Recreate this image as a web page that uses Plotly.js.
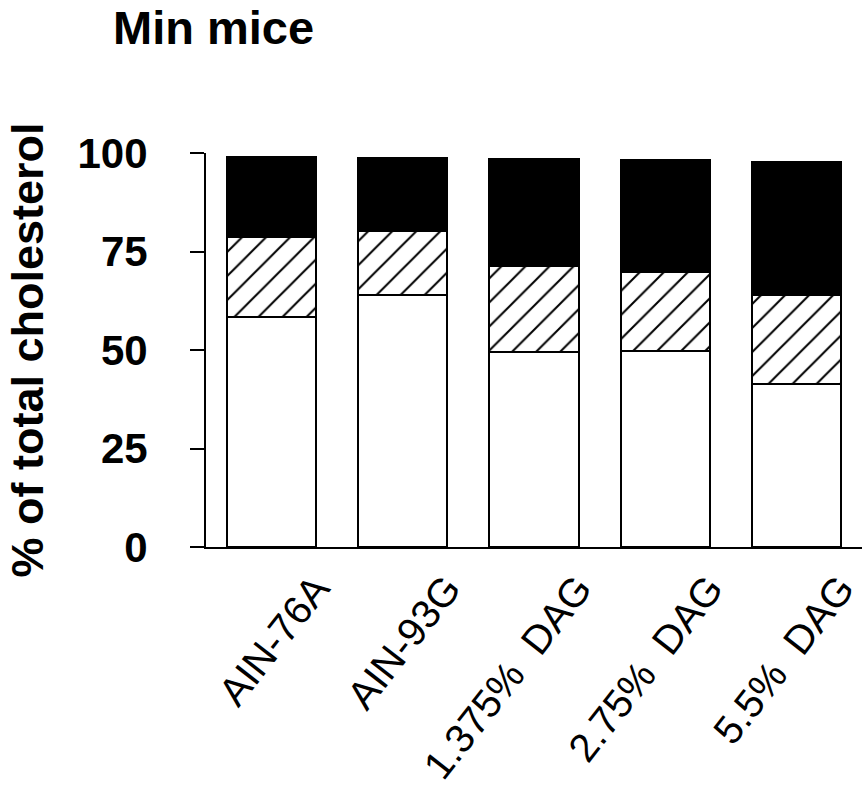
<!DOCTYPE html>
<html>
<head>
<meta charset="utf-8">
<script src="https://cdn.plot.ly/plotly-3.0.1.min.js"></script>
<style>html,body{margin:0;padding:0;background:#fff;}#chart{width:862px;height:798px;}</style>
</head>
<body>
<div id="chart"></div>
<script>
// Diet groups (x categories)
const categories = ["AIN-76A", "AIN-93G", "1.375%  DAG", "2.75%  DAG", "5.5%  DAG"];
// Stacked segments, % of total cholesterol (bottom → top)
const whiteSegment   = [58.3, 63.9, 49.6, 49.7, 41.4];
const hatchedSegment = [20.5, 16.3, 21.6, 20.2, 22.6];
const blackSegment   = [20.3, 18.5, 27.3, 28.2, 33.7];
const yTickVals = [0, 25, 50, 75, 100];
const yTickText = ["0", "25", "50", "75", "100"];

const FONT = "Liberation Sans, Arial, Helvetica, sans-serif";
const outline = {color: "#000", width: 2};

const traces = [
  {type: "bar", x: categories, y: whiteSegment, name: "white",
   marker: {color: "#fff", line: outline}, hoverinfo: "skip"},
  {type: "bar", x: categories, y: hatchedSegment, name: "hatched",
   marker: {color: "#fff", line: outline,
            pattern: {shape: "/", fgcolor: "#000", bgcolor: "#fff", size: 17, solidity: 0.12}},
   hoverinfo: "skip"},
  {type: "bar", x: categories, y: blackSegment, name: "black",
   marker: {color: "#000", line: outline}, hoverinfo: "skip"}
];

const layout = {
  width: 862, height: 798,
  margin: {l: 206, r: 0, t: 153, b: 251, pad: 0},
  paper_bgcolor: "#fff", plot_bgcolor: "#fff",
  barmode: "stack", bargap: 0.32,
  showlegend: false,
  font: {family: FONT, color: "#000"},
  title: {text: "<b>Min mice</b>", font: {family: FONT, size: 47, color: "#000"},
          xref: "container", yref: "container", x: 113/862, xanchor: "left",
          y: 1 - 11/798, yanchor: "top"},
  xaxis: {type: "category", range: [-0.5, 4.5], showline: true, linewidth: 2, linecolor: "#000",
          ticks: "", showgrid: false, zeroline: false, tickangle: -52,
          tickfont: {family: FONT, size: 40, color: "#000"},
          ticklabelshift: 44, ticklabelstandoff: 0, fixedrange: true},
  yaxis: {range: [0, 100], tickvals: yTickVals, ticktext: yTickText,
          showline: true, linewidth: 2, linecolor: "#000",
          ticks: "outside", ticklen: 14, tickwidth: 2, tickcolor: "#000",
          showgrid: false, zeroline: false,
          tickfont: {family: FONT, size: 42, color: "#000", weight: "bold"},
          ticklabelstandoff: 34,
          title: {text: "<b>% of total cholesterol</b>", font: {family: FONT, size: 45, color: "#000"}, standoff: 20},
          fixedrange: true}
};

Plotly.newPlot("chart", traces, layout, {displayModeBar: false, staticPlot: true});
</script>
</body>
</html>
